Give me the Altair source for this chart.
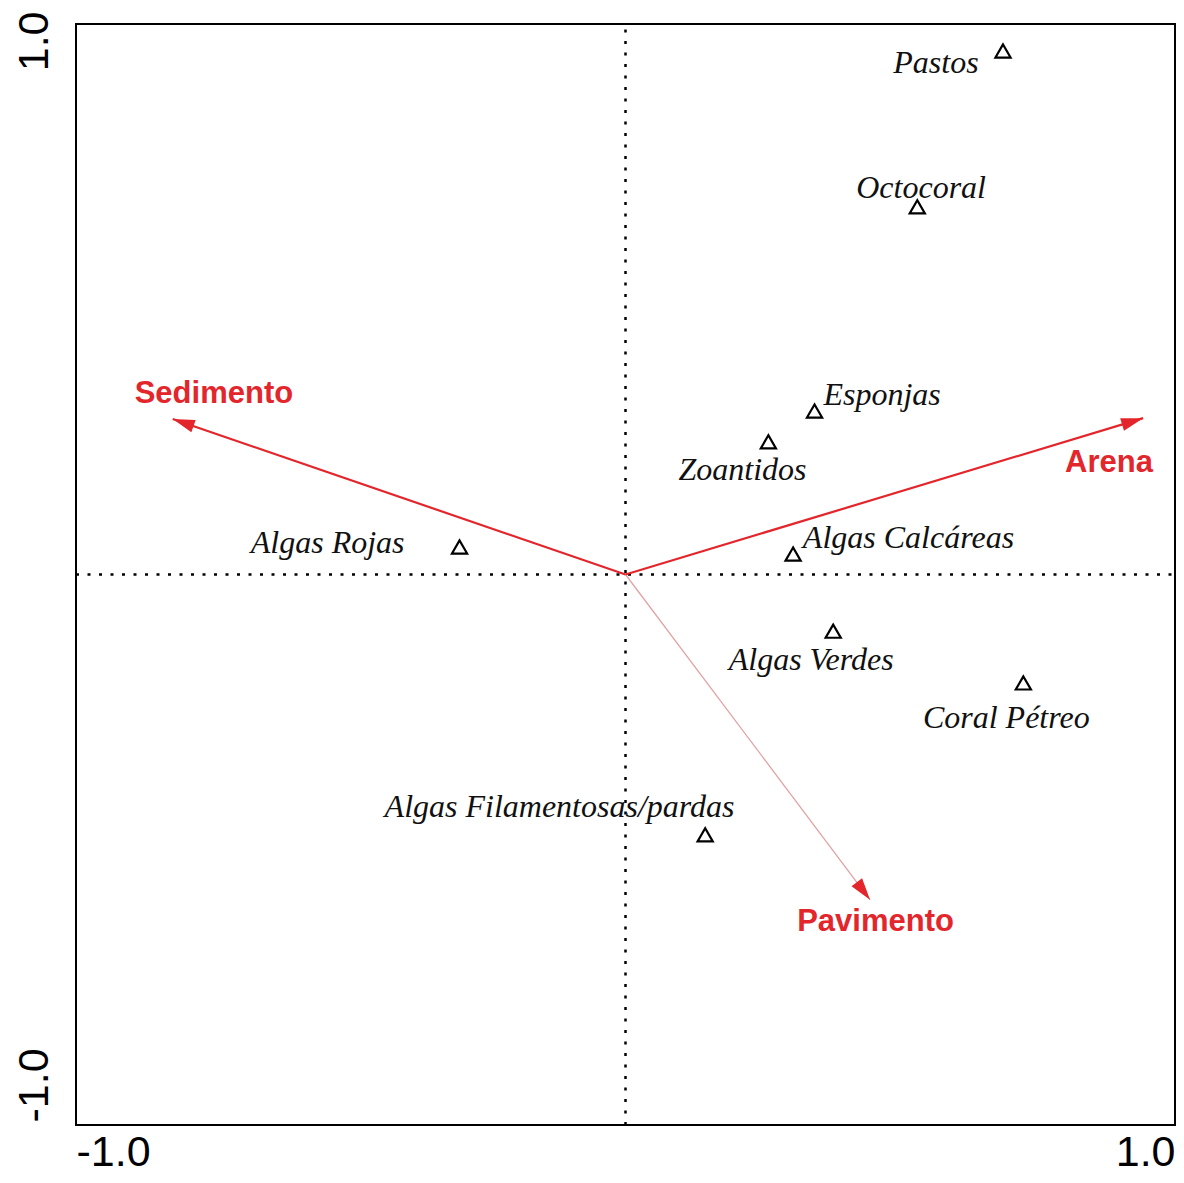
import math
import altair as alt
import pandas as pd

# ---------------- data ----------------
species = ["Pastos", "Octocoral", "Esponjas", "Zoantidos", "Algas Calcáreas",
           "Algas Rojas", "Algas Verdes", "Coral Pétreo", "Algas Filamentosas/pardas"]
species_x = [0.687, 0.531, 0.344, 0.260, 0.305, -0.302, 0.378, 0.724, 0.145]
species_y = [0.951, 0.668, 0.297, 0.241, 0.037, 0.050, -0.103, -0.197, -0.473]
species_label_x = [0.565, 0.538, 0.467, 0.213, 0.515, -0.542, 0.338, 0.693, -0.120]
species_label_y = [0.911, 0.684, 0.308, 0.172, 0.048, 0.039, -0.173, -0.279, -0.440]

variables = ["Sedimento", "Arena", "Pavimento"]
variable_x = [-0.824, 0.942, 0.445]
variable_y = [0.2825, 0.284, -0.591]
variable_label_x = [-0.749, 0.880, 0.455]
variable_label_y = [0.312, 0.186, -0.648]

axis_values = [-1.0, 1.0]

# ---------------- layout ----------------
W, H = 1099, 1101
RED = "#e3262b"

species_df = pd.DataFrame({"name": species, "x": species_x, "y": species_y,
                           "lx": species_label_x, "ly": species_label_y})

angles = [math.degrees(math.atan2(dx * W / 2, dy * H / 2)) % 360
          for dx, dy in zip(variable_x, variable_y)]
env_df = pd.DataFrame({"name": variables, "ox": [0.0] * 3, "oy": [0.0] * 3,
                       "x": variable_x, "y": variable_y,
                       "lx": variable_label_x, "ly": variable_label_y,
                       "angle": angles})

scale = alt.Scale(domain=[-1, 1], nice=False, zero=False)
label_expr = "(datum.value < 0 ? '-' : '') + format(abs(datum.value), '.1f')"
x_axis = alt.Axis(values=axis_values, labelExpr=label_expr, title=None, grid=False,
                  ticks=False, domain=False, labelFlush=True, labelFontSize=43,
                  labelFont="Liberation Sans", labelColor="black", labelPadding=6)
y_axis = alt.Axis(values=axis_values, labelExpr=label_expr, title=None, grid=False,
                  ticks=False, domain=False, labelAngle=-90,
                  labelAlign={"condition": {"test": "datum.value > 0", "value": "right"},
                              "value": "left"},
                  labelOffset={"condition": {"test": "datum.value > 0", "value": -13},
                               "value": -3},
                  labelBaseline="bottom", labelPadding=20,
                  labelFontSize=43, labelFont="Liberation Sans", labelColor="black")


def X(field):
    return alt.X(field, type="quantitative", scale=scale, axis=x_axis)


def Y(field):
    return alt.Y(field, type="quantitative", scale=scale, axis=y_axis)


ref_df = pd.DataFrame({"zero": [0.0], "lo": [-1.0], "hi": [1.0]})
vline = alt.Chart(ref_df).mark_rule(color="black", strokeWidth=2.5,
                                    strokeDash=[3, 8.5]).encode(
    x=X("zero"), y=Y("lo"), y2="hi")
hline = alt.Chart(ref_df).mark_rule(color="black", strokeWidth=2.5,
                                    strokeDash=[3, 8.5]).encode(
    y=Y("zero"), x=X("lo"), x2="hi")

env_base = alt.Chart(env_df)
arrows_main = env_base.transform_filter("datum.name != 'Pavimento'").mark_rule(
    color=RED, strokeWidth=2.2).encode(x=X("ox"), y=Y("oy"), x2="x", y2="y")
arrows_pav = env_base.transform_filter("datum.name == 'Pavimento'").mark_rule(
    color="#e2a3a3", strokeWidth=1.3).encode(x=X("ox"), y=Y("oy"), x2="x", y2="y")
heads = env_base.mark_point(shape="M0,0 L0.3,1 L-0.3,1 Z", size=1936, filled=True,
                            color=RED, opacity=1, strokeWidth=0).encode(
    x=X("x"), y=Y("y"), angle=alt.Angle("angle:Q", scale=None))
env_labels = env_base.mark_text(font="Liberation Sans", fontWeight="bold", fontSize=31,
                                color=RED, align="center", baseline="alphabetic").encode(
    x=X("lx"), y=Y("ly"), text="name:N")

sp_base = alt.Chart(species_df)
tri = sp_base.mark_point(shape="triangle-up", size=230, filled=False, color="black",
                         strokeWidth=2.2, opacity=1).encode(x=X("x"), y=Y("y"))
sp_labels = sp_base.mark_text(font="Liberation Serif", fontStyle="italic", fontSize=32,
                              color="#111111", align="center", baseline="alphabetic").encode(
    x=X("lx"), y=Y("ly"), text="name:N")

chart = alt.layer(vline, hline, arrows_pav, arrows_main, heads, env_labels, tri,
                  sp_labels).properties(
    width=W, height=H,
    autosize=alt.AutoSizeParams(type="none"),
    padding={"left": 68, "top": 16, "right": 1, "bottom": 49},
).configure_view(stroke="black", strokeWidth=2)

chart.save("out.html", embed_options={"renderer": "svg", "actions": False})
